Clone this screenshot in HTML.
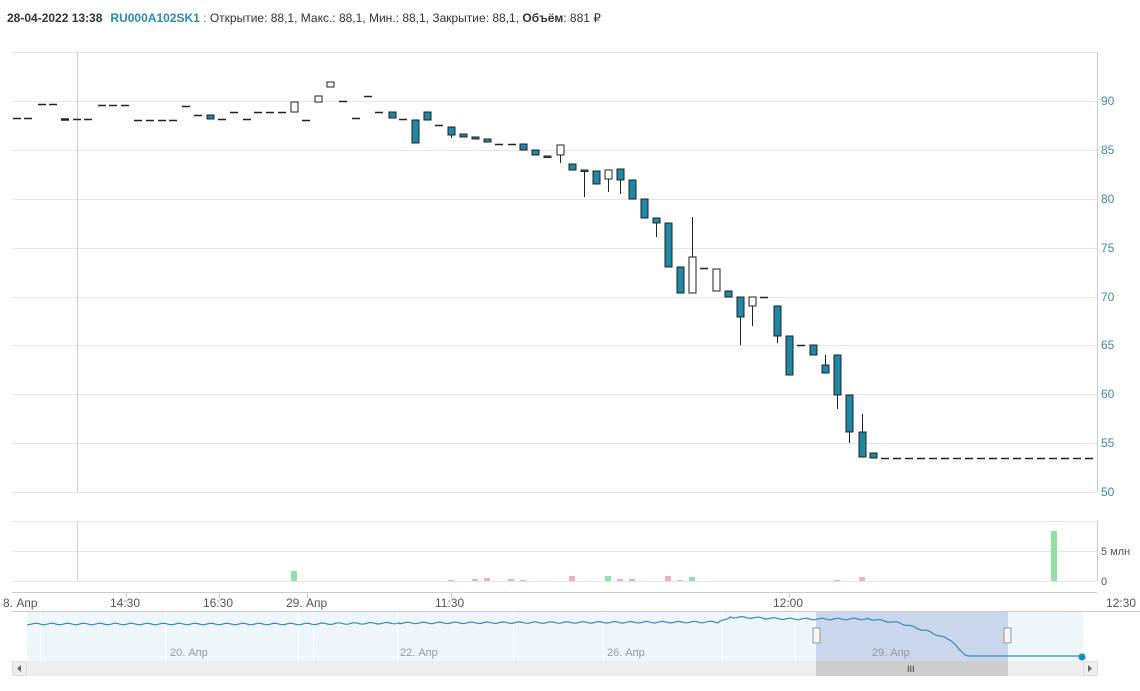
<!DOCTYPE html>
<html><head><meta charset="utf-8"><style>
body{margin:0;background:#fff;width:1140px;height:691px;overflow:hidden;font-family:"Liberation Sans",sans-serif}
svg{position:absolute;left:0;top:0}
</style></head><body>
<svg id="s" width="1140" height="691" xmlns="http://www.w3.org/2000/svg" font-family="Liberation Sans, sans-serif">
<text x="7" y="22" font-size="12" fill="#333"><tspan font-weight="bold">28-04-2022 13:38</tspan><tspan fill="#2a8ab0" font-weight="bold" dx="8">RU000A102SK1</tspan><tspan fill="#2a8ab0"> : </tspan><tspan>Открытие: 88,1, Макс.: 88,1, Мин.: 88,1, Закрытие: 88,1, </tspan><tspan font-weight="bold">Объём</tspan><tspan>: 881 ₽</tspan></text>
<g id="grid"></g>
<line x1="77.5" y1="52" x2="77.5" y2="492" stroke="#ccc"/>
<line x1="77.5" y1="521" x2="77.5" y2="581" stroke="#ccc"/>
<line x1="1097.5" y1="52" x2="1097.5" y2="492" stroke="#ccc"/>
<line x1="1097.5" y1="521" x2="1097.5" y2="581" stroke="#ccc"/>
<g id="c"></g>
<g id="v"></g>
<line x1="12" y1="592.5" x2="1097" y2="592.5" stroke="#ccc"/>
<g font-size="12" fill="#555" id="xl"></g>
<line x1="12" y1="611.5" x2="1140" y2="611.5" stroke="#ccc"/>
<rect x="27" y="612" width="1056" height="49" fill="#eef6fb"/>
<g id="ng"></g>
<rect x="816" y="612" width="192" height="49" fill="#c5d3ea" opacity="0.9"/>
<polyline id="nl" fill="none" stroke="#2f8fc0" stroke-width="1.2"/>
<circle cx="1082" cy="657" r="3.5" fill="#1a8ac0"/>
<g font-size="11" fill="#999"><text x="170" y="656">20. Апр</text><text x="400" y="656">22. Апр</text><text x="607" y="656">26. Апр</text><text x="872" y="656">29. Апр</text></g>
<rect x="813" y="628" width="7" height="15" fill="#f4f4f4" stroke="#999"/>
<rect x="1004" y="628" width="7" height="15" fill="#f4f4f4" stroke="#999"/>
<rect x="12" y="661" width="1085" height="15" fill="#eee"/>
<rect x="816" y="661" width="192" height="15" fill="#ccc"/>
<text x="907" y="672" font-size="9" fill="#333">III</text>
<rect x="12.5" y="661.5" width="14" height="14" fill="#eee" stroke="#ddd"/>
<rect x="1083.5" y="661.5" width="14" height="14" fill="#eee" stroke="#ddd"/>
<path d="M21 665 L17 668.5 L21 672Z" fill="#666"/><path d="M1088 665 L1092 668.5 L1088 672Z" fill="#666"/>
</svg>
<script>
const NS="http://www.w3.org/2000/svg";
function el(p,t,a,txt){const e=document.createElementNS(NS,t);for(const k in a)e.setAttribute(k,a[k]);if(txt!==undefined)e.textContent=txt;document.getElementById(p).appendChild(e);return e;}
// grid
const ys=[52,101,150,199,248,297,345,394,443,492];
ys.forEach((y,i)=>{el('grid','line',{x1:12,y1:y+.5,x2:1097,y2:y+.5,stroke:'#e6e6e6'}); if(i>0){el('grid','text',{x:1101,y:y+4,'font-size':12,fill:'#3d8aa6'},String(90-(i-1)*5));}});
[521,551,581].forEach(y=>el('grid','line',{x1:12,y1:y+.5,x2:1097,y2:y+.5,stroke:'#e6e6e6'}));
el('grid','text',{x:1101,y:555,'font-size':11,fill:'#555'},'5 млн');
el('grid','text',{x:1101,y:585,'font-size':11,fill:'#555'},'0');
// dashes
const d=[[17,118],[28,118],[42,104],[53,104],[65,119,1],[77,119],[88,119],[102,105],[113,105],[125,105],[138,120],[150,120],[162,120],[173,120],[186,106],[198,115],[222,119],[234,112],[247,119],[258,112],[270,112],[282,112],[306,120],[343,101],[356,118],[368,96],[379,112],[403,119],[439,125],[499,144],[512,144],[704,268],[764,297],[801,345]];
d.forEach(a=>el('c','line',{x1:a[0]-4,x2:a[0]+4,y1:a[1]+.5,y2:a[1]+.5,stroke:'#222','stroke-width':a[2]?2.5:1.5}));
for(let x=885;x<1095;x+=12)el('c','line',{x1:x-4,x2:x+4,y1:458.5,y2:458.5,stroke:'#222','stroke-width':1.5});
// candles [x,top,bot,wt,wb,type]
const c=[[210,115,119],[294,102,112,0,0,'w'],[318,96,102,0,0,'w'],[330,82,87,0,0,'w'],[392,112,118],[415,120,143],[427,112,120],[451,127,135,0,138],[463,134,137],[475,137,139],[487,139,142],[523,144,150],[535,150,155],[547,156,157,0,0],[560,145,155,0,163,'w'],[572,164,170],[584,170,170,0,197],[596,171,184],[608,170,179,0,192,'w'],[620,169,180,0,194],[632,180,199],[644,199,218],[656,218,223,0,237],[668,223,267],[680,267,293],[692,257,293,217,0,'w'],[716,269,291,0,0,'w'],[728,291,297],[740,297,317,0,345],[752,297,306,0,326,'w'],[777,306,336,0,343],[789,336,375],[813,345,355],[825,365,373,355,0],[837,355,395,0,409],[849,395,432,0,443],[862,432,457,414,0],[873,453,458]];
c.forEach(a=>{const[x,t,b,wt,wb,ty]=a;
 if(wt)el('c','line',{x1:x+.5,x2:x+.5,y1:wt,y2:t,stroke:'#222'});
 if(wb)el('c','line',{x1:x+.5,x2:x+.5,y1:b,y2:wb,stroke:'#222'});
 el('c','rect',{x:x-3,y:t,width:7,height:Math.max(b-t,1.5),fill:ty=='w'?'#fff':'#1f87a8',stroke:'#222','stroke-width':1});});
// volume
const v=[[294,571,'g'],[1054,531,'g'],[451,580,'p'],[475,579,'p'],[487,578,'p'],[511,579,'p'],[523,580,'p'],[572,576,'p'],[608,576,'g'],[620,579,'p'],[632,579,'p'],[668,576,'p'],[680,580,'p'],[692,577,'g'],[837,580,'p'],[862,577,'p']];
v.forEach(a=>el('v','rect',{x:a[0]-3,y:a[1],width:6,height:581-a[1],fill:a[2]=='g'?'#90dfa4':'#f2afbe'}));
// x labels
[[3,'8. Апр'],[110,'14:30'],[203,'16:30'],[286,'29. Апр'],[435,'11:30'],[773,'12:00'],[1106,'12:30']].forEach(a=>el('xl','text',{x:a[0],y:607},a[1]));
[126,219,307,451,789].forEach(x=>el('xl','line',{x1:x+.5,x2:x+.5,y1:593,y2:598,stroke:'#ccc'}));
// navigator grid
[40,165,298,313,397,513,603,722,795,868].forEach(x=>el('ng','line',{x1:x+.5,x2:x+.5,y1:612,y2:661,stroke:'#fff'}));
// navigator line
let pts=[];
const keys=[[27,624],[300,624],[400,623],[720,622],[730,617],[790,619],[870,619],[900,623],[930,632],[950,640],[965,655],[968,656],[1082,656]];
for(let i=0;i<keys.length-1;i++){const[x0,y0]=keys[i],[x1,y1]=keys[i+1];for(let x=x0;x<x1;x+=3){const y=y0+(y1-y0)*(x-x0)/(x1-x0)+(x<960?(Math.sin(x*1.7)*0.8):0);pts.push(x+','+y.toFixed(1));}}
pts.push('1082,656');
document.getElementById('nl').setAttribute('points',pts.join(' '));
</script>
</body></html>
